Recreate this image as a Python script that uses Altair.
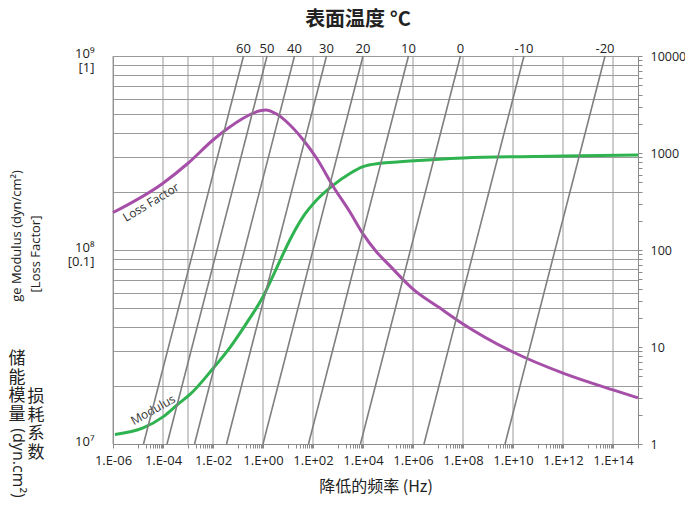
import altair as alt
import pandas as pd

# ---------------- data ----------------
# Storage modulus curve (reduced frequency Hz, dyn/cm2)
mod_freq = [1.2e-6, 1.6e-5, 1.0e-4, 4.1e-4, 1.2e-3, 1.0e-2, 4.8e-2, 0.22, 1.0, 3.5,
            12, 41, 140, 650, 3.0e3, 1.0e4, 4.8e4, 3.0e5, 1e8, 1e12, 1e15]
mod_val = [1.12e7, 1.21e7, 1.38e7, 1.61e7, 1.80e7, 2.45e7, 3.15e7, 4.20e7, 5.74e7, 8.07e7,
           1.13e8, 1.49e8, 1.81e8, 2.16e8, 2.48e8, 2.69e8, 2.80e8, 2.85e8, 2.98e8, 3.05e8, 3.09e8]

# Loss factor curve (reduced frequency Hz, loss factor)
lf_freq = [1e-6, 1e-4, 1e-3, 1e-2, 3.5e-2, 0.16, 0.76, 1.3, 3.5, 12, 41, 140, 650,
           3.0e3, 1.0e4, 3.5e4, 1.2e5, 1e6, 1.2e7, 1e8, 1e10, 1e12, 1e14, 1e15]
lf_val = [0.156, 0.221, 0.280, 0.369, 0.419, 0.478, 0.522, 0.527, 0.502, 0.441, 0.369,
          0.297, 0.212, 0.157, 0.121, 0.0977, 0.0828, 0.0629, 0.0502, 0.0416, 0.0298,
          0.0232, 0.0190, 0.0173]

# Isotherms: reduced frequency reached at 1 Hz and at 10000 Hz (right axis)
temps = [60, 50, 40, 30, 20, 10, 0, -10, -20]
iso_low = [1.66e-5, 1.45e-4, 1.82e-3, 3.47e-2, 1.0, 66, 7.9e3, 2.75e6, 4.8e9]
iso_high = [0.166, 1.45, 18.2, 347, 1.0e4, 6.6e5, 7.9e7, 2.75e10, 4.8e13]
freq_low, freq_high = 1, 10000

# Axis tick labels / grid positions
x_grid = [1e-6, 1e-4, 1e-3, 1e-2, 1, 1e2, 1e4, 1e6, 1e8, 1e10, 1e12, 1e14]
x_ticks = []
for e in range(-6, 15, 2):
    x_ticks.append(10.0 ** e)
    for k in range(1, 10):
        v = k * 10.0 ** (e + 1)
        if v <= 1.0000001e15:
            x_ticks.append(v)
yl_ticks = [k * 10.0 ** e for e in (7, 8) for k in range(1, 10)] + [1e9]
yr_ticks = [k * 10.0 ** e for e in (0, 1, 2, 3) for k in range(1, 10)] + [1e4]

# ---------------- tables ----------------
curves = pd.concat([
    pd.DataFrame({"x": mod_freq, "y": mod_val, "s": "Modulus"}),
    pd.DataFrame({"x": lf_freq, "y": [v * 1e9 for v in lf_val], "s": "Loss Factor"}),
])
iso_rows = []
for t, lo, hi in zip(temps, iso_low, iso_high):
    iso_rows.append({"t": t, "x": lo, "y": freq_low})
    iso_rows.append({"t": t, "x": hi, "y": freq_high})
iso_df = pd.DataFrame(iso_rows)
iso_lbl = pd.DataFrame({"t": [str(t) for t in temps], "x": iso_high, "y": [freq_high] * len(temps)})
curve_lbl = pd.DataFrame({"x": [3.3e-5, 4.0e-5], "y": [1.76e8, 1.5e7],
                          "txt": ["Loss Factor", "Modulus"], "ang": [329, 331]})
grid_df = pd.DataFrame({"x": x_grid})

FONT = "Open Sans"
CJK = "Noto Sans CJK SC"
GRID = "#9a9a9a"
AX = "#8a8a8a"

x_label_expr = (
    "(abs(log(datum.value)/LN10 - round(log(datum.value)/LN10)) < 1e-6 && "
    "round(log(datum.value)/LN10) % 2 == 0) ? "
    "('1.E' + (datum.value < 1 ? '-' : '+') + "
    "(abs(round(log(datum.value)/LN10)) < 10 ? '0' : '') + abs(round(log(datum.value)/LN10))) : ''"
)
xscale = alt.Scale(type="log", domain=[1e-6, 1e15], nice=False)
xaxis = alt.Axis(values=x_ticks, labelExpr=x_label_expr, title="降低的频率 (Hz)", grid=False,
                 tickSize=4, tickColor=AX, domainColor=AX, labelFont=FONT, labelFontSize=13,
                 labelColor="#222", labelPadding=6, labelOverlap=False, labelFlush=False,
                 titleFont=CJK, titleFontSize=16, titleFontWeight="normal", titleColor="#222",
                 titlePadding=11)
X = alt.X("x:Q", scale=xscale, axis=xaxis)

yl_label_expr = ("datum.value == 1e9 ? ['10⁹','[1]'] : (datum.value == 1e8 ? ['10⁸','[0.1]'] : "
                 "(datum.value == 1e7 ? '10⁷' : ''))")
yl_axis = alt.Axis(values=yl_ticks, labelExpr=yl_label_expr, title=None, grid=True,
                   gridColor=GRID, gridWidth=1, gridOpacity=1, tickSize=0, domainColor=AX,
                   labelPadding=19, labelFont=FONT, labelFontSize=13, labelColor="#222",
                   labelOverlap=False, labelFlush=False, labelLineHeight=14, labelOffset=-3)
YL = alt.Y("y:Q", scale=alt.Scale(type="log", domain=[1e7, 1e9], nice=False), axis=yl_axis)

yr_label_expr = ("(datum.value==1||datum.value==10||datum.value==100||datum.value==1000||"
                 "datum.value==10000) ? '' + datum.value : ''")
yr_axis = alt.Axis(orient="right", values=yr_ticks, labelExpr=yr_label_expr, title=None,
                   grid=False, tickSize=4, tickColor=AX, domainColor=AX, labelPadding=8,
                   labelFont=FONT, labelFontSize=12.5, labelColor="#222", labelOverlap=False,
                   labelFlush=False)
YR = alt.Y("y:Q", scale=alt.Scale(type="log", domain=[1, 1e4], nice=False), axis=yr_axis)

# ---------------- left-scale layers ----------------
vgrid = alt.Chart(grid_df).mark_rule(color=GRID, strokeWidth=1).encode(x=X)
curve_lines = alt.Chart(curves).mark_line(strokeWidth=3, interpolate="monotone").encode(
    x=X, y=YL,
    color=alt.Color("s:N", scale=alt.Scale(domain=["Modulus", "Loss Factor"],
                                           range=["#2fb350", "#a64fa8"]), legend=None),
)
curve_text = alt.Chart(curve_lbl).mark_text(font=FONT, fontSize=12, color="#333").encode(
    x=X, y=YL, text="txt:N", angle=alt.Angle("ang:Q", scale=None))

def note(txt, x, y, size, angle=0, font=CJK, weight="normal", lh=None):
    kw = dict(font=font, fontSize=size, fontWeight=weight, color="#222", angle=angle,
              align="center", baseline="middle", text=txt)
    if lh:
        kw["lineHeight"] = lh
    return alt.Chart(pd.DataFrame({"a": [0]})).mark_text(**kw).encode(
        x=alt.value(x), y=alt.value(y))

notes = [
    note("表面温度 °C", 245, -36, 20, weight="bold"),
    note("ge Modulus (dyn/cm²)", -96, 180, 13, angle=270, font=FONT),
    note("[Loss Factor]", -77, 198, 13, angle=270, font=FONT),
    note(["储", "能", "模", "量"], -96, 303, 17, lh=18.7),
    note("(dyn.cm²)", -95, 407, 16, angle=90, font=FONT),
    note(["损", "耗", "系", "数"], -77, 341, 17, lh=18.7),
]

left = alt.layer(vgrid, curve_lines, curve_text, *notes)

# ---------------- right-scale layers ----------------
iso_lines = alt.Chart(iso_df).mark_line(color="#7f7f7f", strokeWidth=1.6).encode(
    x=X, y=YR, detail="t:N")
iso_text = alt.Chart(iso_lbl).mark_text(font=FONT, fontSize=13, color="#222",
                                        baseline="alphabetic", dy=-3).encode(
    x=X, y=YR, text="t:N")
right = alt.layer(iso_lines, iso_text)

chart = alt.layer(left, right).resolve_scale(y="independent").properties(
    width=525, height=388, autosize="none",
    padding={"left": 105, "top": 48, "right": 47, "bottom": 55},
).configure_view(stroke=None).configure(background="white")

chart.save("out.html", embed_options={"renderer": "svg", "actions": False})
